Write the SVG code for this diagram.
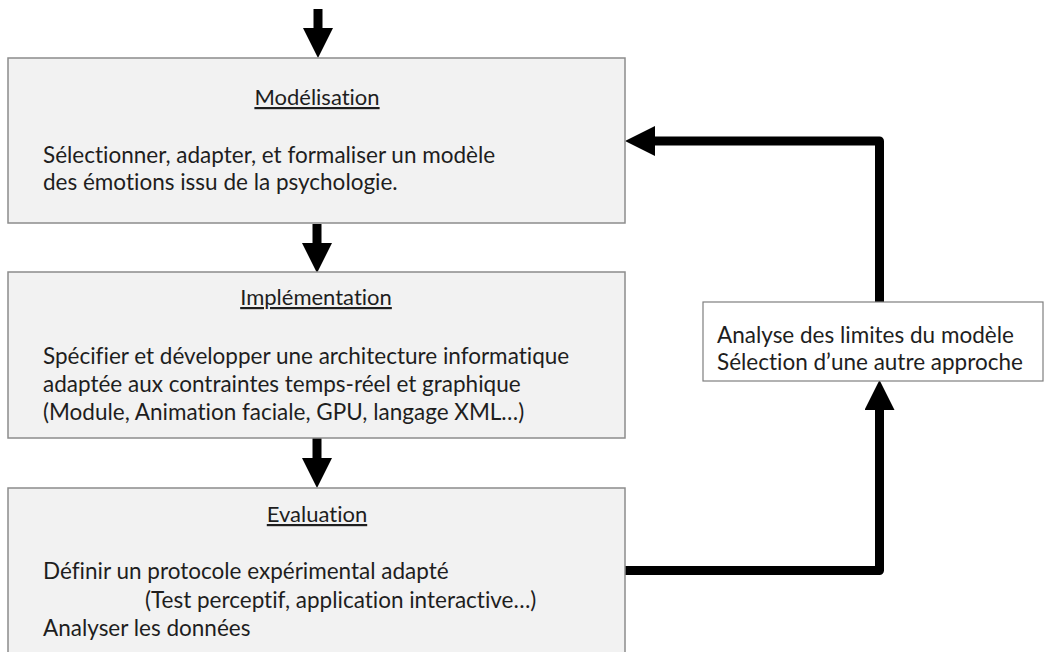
<svg xmlns="http://www.w3.org/2000/svg" width="1046" height="652" viewBox="0 0 1046 652">
<defs>
<marker id="ah" markerUnits="userSpaceOnUse" markerWidth="30" markerHeight="30" viewBox="0 0 30 30" refX="0" refY="15" orient="auto">
<path d="M0,0 L30,15 L0,30 z" fill="#000"/>
</marker>
<style>
.box{fill:#f2f2f2;stroke:#8c8c8c;stroke-width:1.5}
.wbox{fill:#fff;stroke:#7f7f7f;stroke-width:1.2}
text{font-family:"Lato","Open Sans","Liberation Sans",sans-serif;font-size:22.5px;fill:#1e1e1e;font-variant-ligatures:none}
.t{text-anchor:middle;text-decoration:underline;font-size:22px}
.c{fill:none;stroke:#000;stroke-width:9;stroke-linejoin:round}
</style>
</defs>
<rect width="1046" height="652" fill="#fff"/>
<g id="connectors">
<path class="c" d="M318,9 V28" marker-end="url(#ah)"/>
<path class="c" d="M317,224 V243" marker-end="url(#ah)"/>
<path class="c" d="M317,438 V458" marker-end="url(#ah)"/>
<path class="c" d="M625,570.5 H879.5 V410" marker-end="url(#ah)"/>
<path class="c" d="M879.5,302 V141 H655" marker-end="url(#ah)"/>
</g>
<g id="modelisation">
<rect class="box" x="8" y="58" width="617" height="165"/>
<text class="t" x="317" y="105">Modélisation</text>
<text x="43" y="163">Sélectionner, adapter, et formaliser un modèle</text>
<text x="43" y="190">des émotions issu de la psychologie.</text>
</g>
<g id="implementation">
<rect class="box" x="8" y="272" width="617" height="166"/>
<text class="t" x="316" y="305">Implémentation</text>
<text x="43" y="364">Spécifier et développer une architecture informatique</text>
<text x="43" y="392">adaptée aux contraintes temps-réel et graphique</text>
<text x="43" y="420">(Module, Animation faciale, GPU, langage XML…)</text>
</g>
<g id="evaluation">
<rect class="box" x="8" y="488" width="617" height="180"/>
<text class="t" x="317" y="522">Evaluation</text>
<text x="43" y="579">Définir un protocole expérimental adapté</text>
<text x="145" y="608">(Test perceptif, application interactive…)</text>
<text x="43" y="636">Analyser les données</text>
</g>
<g id="analyse">
<rect class="wbox" x="703" y="302" width="340" height="79"/>
<text x="717" y="343">Analyse des limites du modèle</text>
<text x="717" y="370">Sélection d’une autre approche</text>
</g>
</svg>
